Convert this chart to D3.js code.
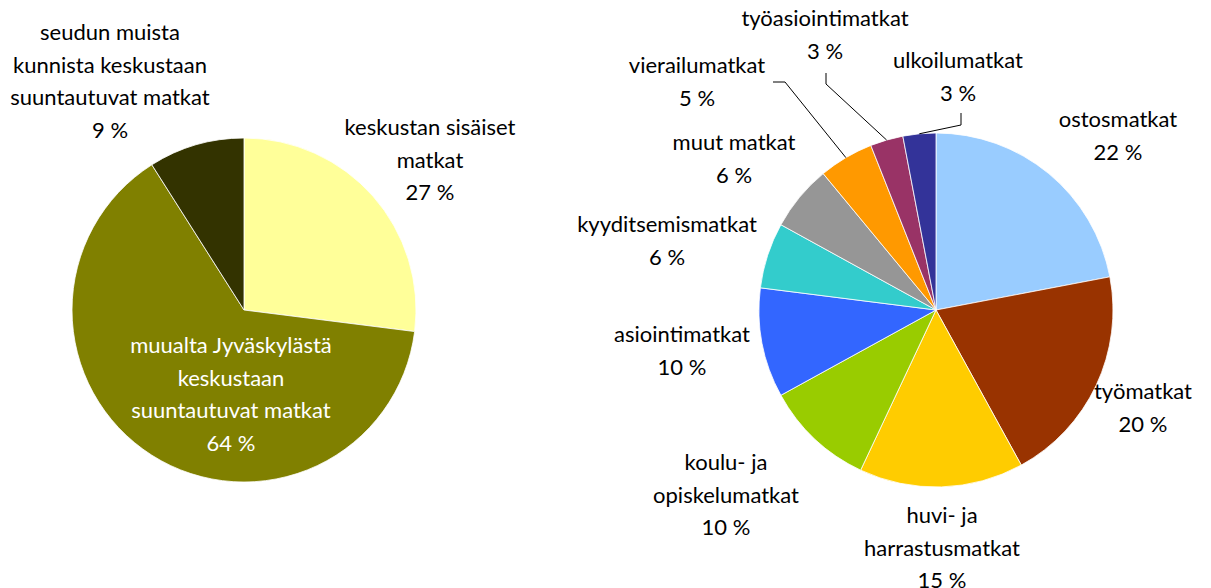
<!DOCTYPE html>
<html>
<head>
<meta charset="utf-8">
<script src="https://cdn.jsdelivr.net/npm/d3@7"></script>
<style>
  body { margin: 0; background: #fff; }
  svg { display: block; }
  text { font-family: Lato, "Open Sans", sans-serif; font-size: 22px; fill: #000; }
</style>
</head>
<body>
<div class="container"></div>
<script>
// Data - left pie (journeys into the centre)
var LEFT_LABELS = [['keskustan sisäiset', 'matkat'],
                   ['muualta Jyväskylästä', 'keskustaan', 'suuntautuvat matkat'],
                   ['seudun muista', 'kunnista keskustaan', 'suuntautuvat matkat']];
var LEFT_VALUES = [27, 64, 9];
var LEFT_COLORS = ['#FFFF99', '#808000', '#333300'];

// Data - right pie (trip purposes)
var RIGHT_LABELS = [['ostosmatkat'], ['työmatkat'], ['huvi- ja', 'harrastusmatkat'],
                    ['koulu- ja', 'opiskelumatkat'], ['asiointimatkat'], ['kyyditsemismatkat'],
                    ['muut matkat'], ['vierailumatkat'], ['työasiointimatkat'], ['ulkoilumatkat']];
var RIGHT_VALUES = [22, 20, 15, 10, 10, 6, 6, 5, 3, 3];
var RIGHT_COLORS = ['#99CCFF', '#993300', '#FFCC00', '#99CC00', '#3366FF',
                    '#33CCCC', '#969696', '#FF9900', '#993366', '#333399'];

// Layout
var W = 1211, H = 588;
var LINE_H = 32.5;
// label anchor: x centre, baseline of first line
var LEFT_LABEL_POS = [[430, 135], [231, 353], [110, 40]];
var LEFT_LABEL_FILL = ['#000', '#fff', '#000'];
var RIGHT_LABEL_POS = [[1118, 127], [1143, 399], [942, 523], [726, 470], [682, 342],
                       [667, 232], [734, 150], [697, 73], [825, 26], [958, 68]];
// leader line elbows (from label side) for the small slices, null = none
var LEADERS = [null, null, null, null, null, null, null,
               [[773, 82], [785, 82]], [[826, 73], [826, 84]], [[961, 113], [961, 125]]];

var svg = d3.select('.container').append('svg')
    .attr('width', W)
    .attr('height', H);

function drawPie(cx, cy, r, values, colors, labels, labelPos, labelFill, leaders) {
  var pie = d3.pie().sort(null).value(function(d) { return d; });
  var arcs = pie(values);
  var arc = d3.arc().innerRadius(0).outerRadius(r);

  var g = svg.append('g').attr('transform', 'translate(' + cx + ',' + cy + ')');

  g.selectAll('path.slice')
    .data(arcs)
    .enter().append('path')
      .attr('class', 'slice')
      .attr('d', arc)
      .attr('fill', function(d, i) { return colors[i]; })
      .attr('stroke', '#fff')
      .attr('stroke-width', 0.8);

  // leader lines: elbow points then the slice edge at its mid angle
  if (leaders) {
    arcs.forEach(function(d, i) {
      if (!leaders[i]) return;
      var a = (d.startAngle + d.endAngle) / 2;
      var end = [cx + r * Math.sin(a), cy - r * Math.cos(a)];
      var pts = leaders[i].concat([end]);
      svg.append('path')
        .attr('d', d3.line()(pts))
        .attr('fill', 'none')
        .attr('stroke', '#000')
        .attr('stroke-width', 1);
    });
  }

  // labels: name lines + percentage
  arcs.forEach(function(d, i) {
    var lines = labels[i].concat([values[i] + ' %']);
    var t = svg.append('text')
      .attr('text-anchor', 'middle')
      .style('fill', labelFill ? labelFill[i] : '#000');
    lines.forEach(function(s, j) {
      t.append('tspan')
        .attr('x', labelPos[i][0])
        .attr('y', labelPos[i][1] + j * LINE_H)
        .text(s);
    });
  });
}

drawPie(244, 310, 172, LEFT_VALUES, LEFT_COLORS, LEFT_LABELS, LEFT_LABEL_POS, LEFT_LABEL_FILL, null);
drawPie(936, 310, 177, RIGHT_VALUES, RIGHT_COLORS, RIGHT_LABELS, RIGHT_LABEL_POS, null, LEADERS);
</script>
</body>
</html>
